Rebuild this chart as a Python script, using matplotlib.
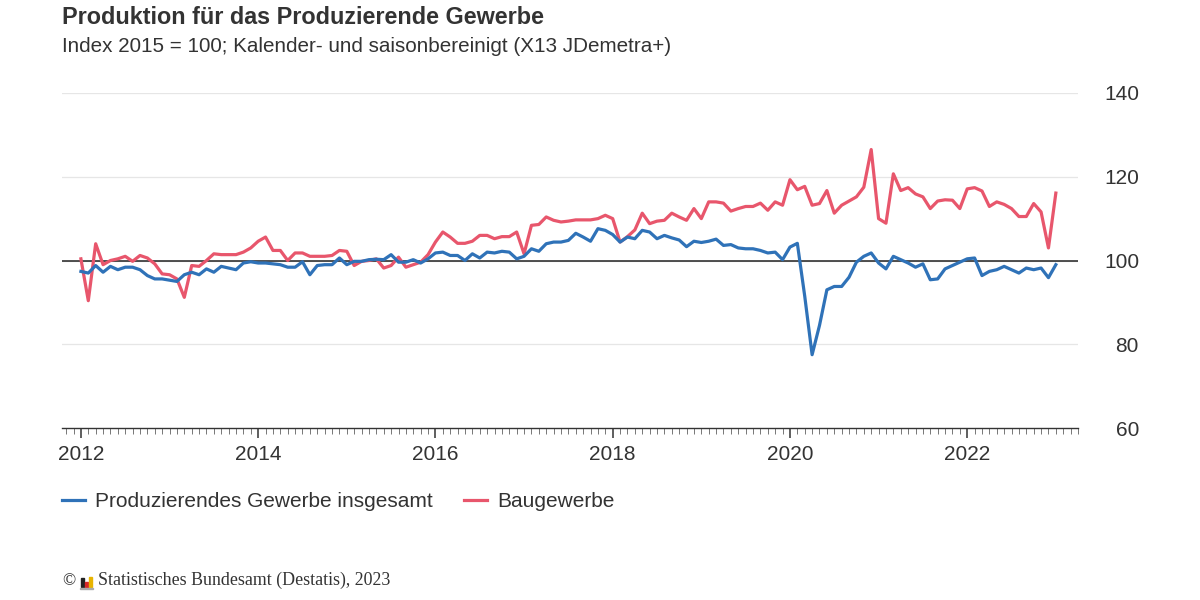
import numpy as np
import matplotlib
matplotlib.use("Agg")
import matplotlib.pyplot as plt
from matplotlib.patches import Rectangle

plt.rcParams['font.family'] = ['Liberation Sans', 'DejaVu Sans']

# monthly values, Jan 2012 .. Jan 2023
start_year = 2012
produzierendes = [
    97.4, 97.0, 98.8, 97.2, 98.6, 97.8, 98.4, 98.4, 97.8, 96.4, 95.6, 95.6,
    95.3, 95.0, 96.6, 97.2, 96.6, 98.0, 97.2, 98.6, 98.2, 97.8, 99.4, 99.7,
    99.4, 99.4, 99.2, 99.0, 98.4, 98.4, 99.7, 96.6, 98.8, 99.0, 99.0, 100.6,
    99.0, 99.8, 99.8, 100.2, 100.3, 100.2, 101.4, 99.6, 99.6, 100.2, 99.4, 100.4,
    101.8, 102.0, 101.2, 101.2, 100.0, 101.6, 100.6, 102.0, 101.8, 102.2, 102.0, 100.4,
    101.0, 102.8, 102.2, 104.0, 104.4, 104.4, 104.8, 106.5, 105.6, 104.6, 107.6, 107.2,
    106.2, 104.4, 105.6, 105.2, 107.2, 106.8, 105.2, 106.0, 105.4, 104.9, 103.3, 104.6,
    104.3, 104.6, 105.1, 103.6, 103.8, 103.0, 102.8, 102.8, 102.4, 101.8, 102.0, 100.2,
    103.2, 104.1, 91.5, 77.5, 84.5, 93.0, 93.8, 93.8, 96.0, 99.6, 101.0, 101.8,
    99.4, 98.0, 101.0, 100.2, 99.4, 98.4, 99.2, 95.4, 95.6, 98.0, 98.8, 99.6,
    100.4, 100.6, 96.4, 97.4, 97.8, 98.6, 97.8, 97.0, 98.2, 97.8, 98.2, 95.9,
    99.0,
]
baugewerbe = [
    100.4, 90.4, 104.0, 99.0, 100.0, 100.4, 101.0, 99.8, 101.2, 100.6, 99.2, 96.8,
    96.6, 95.6, 91.2, 98.8, 98.6, 100.0, 101.6, 101.4, 101.4, 101.4, 102.0, 103.0,
    104.6, 105.6, 102.4, 102.4, 100.0, 101.8, 101.8, 101.0, 101.0, 101.0, 101.2, 102.4,
    102.2, 98.8, 99.8, 100.0, 100.4, 98.2, 98.8, 100.8, 98.4, 99.0, 99.6, 101.4,
    104.4, 106.8, 105.6, 104.1, 104.1, 104.6, 106.0, 106.0, 105.2, 105.7, 105.7, 106.8,
    101.6, 108.4, 108.6, 110.4, 109.6, 109.2, 109.4, 109.7, 109.7, 109.7, 110.0, 110.8,
    110.0, 104.4, 105.7, 107.3, 111.3, 108.8, 109.4, 109.6, 111.3, 110.4, 109.6, 112.4,
    110.0, 114.0, 114.0, 113.7, 111.8, 112.4, 112.9, 112.9, 113.7, 112.0, 114.0, 113.2,
    119.3, 116.9, 117.7, 113.2, 113.6, 116.7, 111.3, 113.2, 114.2, 115.2, 117.5, 126.5,
    110.0, 108.9, 120.7, 116.7, 117.4, 115.9, 115.2, 112.4, 114.2, 114.5, 114.4, 112.4,
    117.1, 117.4, 116.6, 112.9, 114.0, 113.4, 112.4, 110.5, 110.5, 113.6, 111.6, 103.0,
    116.1,
]
labels = ["Produzierendes Gewerbe insgesamt", "Baugewerbe"]
colors = ["#2f72b8", "#e8566c"]
y_ticks = [60, 80, 100, 120, 140]
x_ticks = [2012, 2014, 2016, 2018, 2020, 2022]

months = start_year + np.arange(len(produzierendes)) / 12.0

fig = plt.figure(figsize=(12, 6), dpi=100)
ax = fig.add_axes([62/1200, 1-428/600, (1078-62)/1200, (428-93)/600])

for yv in y_ticks[1:]:
  ax.axhline(yv, color="#e6e6e6", lw=0.9, zorder=0)
ax.axhline(100, color="#222222", lw=1.1, zorder=1)

ax.plot(months, produzierendes, color=colors[0], lw=2.3, label=labels[0],
        solid_joinstyle="round", zorder=3)
ax.plot(months, baugewerbe, color=colors[1], lw=2.3, label=labels[1],
        solid_joinstyle="round", zorder=2)

ax.set_xlim(2012 - 2.56/12, 2012 + 134.4/12)
ax.set_ylim(60, 140)

for s in ["top", "right", "left"]:
  ax.spines[s].set_visible(False)
ax.spines["bottom"].set_color("#333333")
ax.spines["bottom"].set_linewidth(1.0)

# labels right-aligned at about x=1139 px
ax.yaxis.tick_right()
ax.set_yticks(y_ticks)
ax.tick_params(axis="y", length=0, pad=61*0.72, labelsize=15, labelcolor="#333333")
for t in ax.get_yticklabels():
  t.set_horizontalalignment("right")

ax.set_xticks(x_ticks)
ax.set_xticklabels([str(x) for x in x_ticks])
ax.set_xticks(np.arange(2011 + 10/12, 2023 + 3/12, 1/12), minor=True)
ax.tick_params(axis="x", which="major", length=7, width=1.1, color="#333333",
               labelsize=15, labelcolor="#333333", pad=5)
ax.tick_params(axis="x", which="minor", length=4, width=0.7, color="#777777")

fig.text(62/1200, 1-17/600, "Produktion für das Produzierende Gewerbe",
         fontsize=16.8, fontweight="bold", color="#333333", va="center")
fig.text(62/1200, 1-46/600,
         "Index 2015 = 100; Kalender- und saisonbereinigt (X13 JDemetra+)",
         fontsize=14.9, color="#333333", va="center")

fig.legend(loc="upper left", bbox_to_anchor=(62/1200, 1-492/600), ncol=2,
           frameon=False, fontsize=15, handlelength=1.1, handletextpad=0.5,
           columnspacing=1.5, borderpad=0, borderaxespad=0,
           labelcolor="#333333")

# footer with small logo
fig.text(62/1200, 1-581/600, "©", fontsize=12.5, family="Liberation Serif",
         color="#333333", va="center")
for i, (h, c) in enumerate([(9, "#222222"), (5, "#d62828"), (10, "#e8b400")]):
  fig.patches.append(Rectangle(((81 + i*4)/1200, 1-587/600), 2.6/1200, h/600,
                               transform=fig.transFigure, color=c))
fig.patches.append(Rectangle((80/1200, 1-589/600), 13/1200, 1.5/600,
                             transform=fig.transFigure, color="#aaaaaa"))
fig.text(98/1200, 1-580/600, "Statistisches Bundesamt (Destatis), 2023",
         fontsize=12.9, family="Liberation Serif", color="#333333", va="center")

fig.savefig("out.png", dpi=100)
